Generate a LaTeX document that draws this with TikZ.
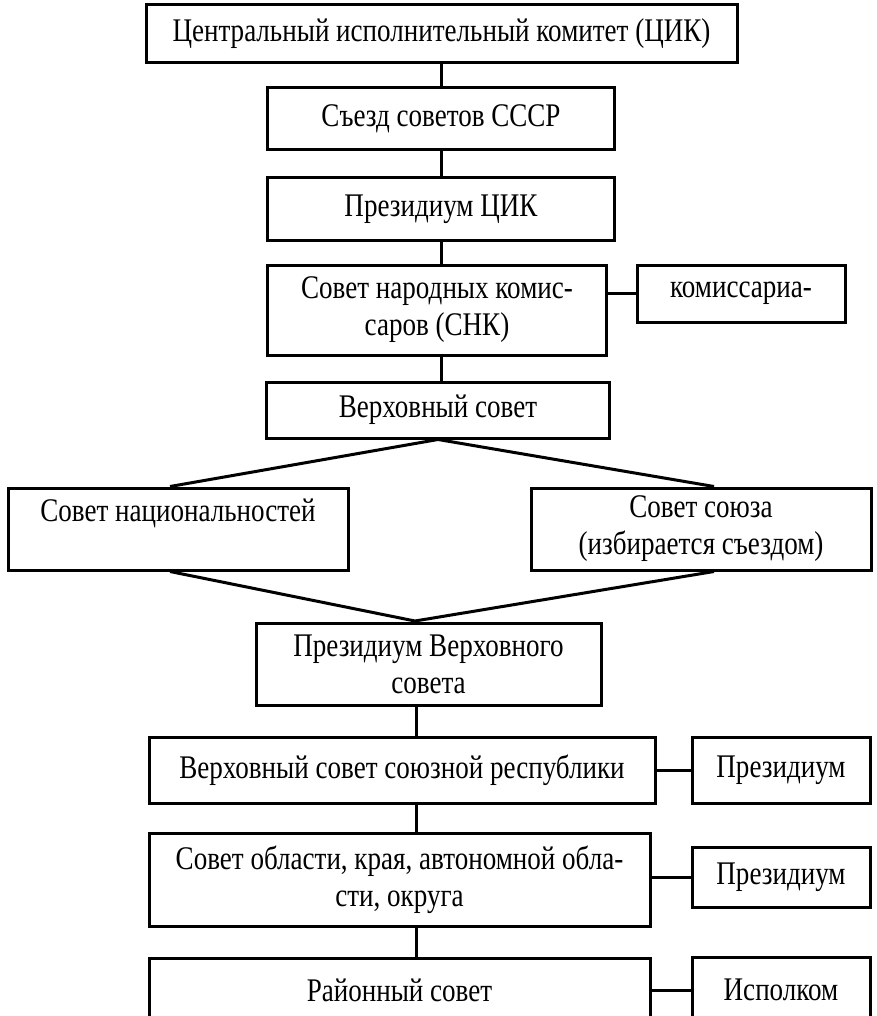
\documentclass[tikz,border=0pt]{standalone}
\usepackage{fontspec}
\setmainfont{Liberation Serif}[FakeStretch=0.82]
\begin{document}
\begin{tikzpicture}[x=1pt,y=-1pt,
  box/.style={draw, line width=3pt, inner sep=0pt, align=center,
    font=\fontsize{33}{37}\selectfont},
  link/.style={line width=3pt}]
\useasboundingbox (0,0) rectangle (876,1016);
\clip (0,0) rectangle (876,1016);
\node[box, minimum width=591pt, minimum height=58pt] (b1) at (441.5,34) {Центральный исполнительный комитет (ЦИК)};
\node[box, minimum width=347pt, minimum height=62pt] (b2) at (441,119) {Съезд советов СССР};
\node[box, minimum width=347pt, minimum height=62pt] (b3) at (441,209) {Президиум ЦИК};
\node[box, minimum width=339pt, minimum height=90pt] (b4) at (437,310) {Совет народных комис-\\саров (СНК)};
\node[box, minimum width=208pt, minimum height=57pt] (b4s) at (741,293.5) {комиссариа-};
\node[box, minimum width=343pt, minimum height=56pt] (b5) at (438,410) {Верховный совет};
\node[box, minimum width=340pt, minimum height=82pt] (b6l) at (178,529) {Совет национальностей\\~};
\node[box, minimum width=340pt, minimum height=82pt] (b6r) at (701,529) {Совет союза\\(избирается съездом)};
\node[box, minimum width=345pt, minimum height=82pt] (b7) at (428.5,664) {Президиум Верховного\\совета};
\node[box, minimum width=506pt, minimum height=66pt] (b8) at (402,770) {Верховный совет союзной республики};
\node[box, minimum width=178pt, minimum height=66pt] (b8s) at (781,770) {Президиум};
\node[box, minimum width=501pt, minimum height=93pt] (b9) at (399.5,879.5) {Совет области, края, автономной обла-\\сти, округа};
\node[box, minimum width=178pt, minimum height=60pt] (b9s) at (781,877) {Президиум};
\node[box, minimum width=501pt, minimum height=64pt] (b10) at (399.5,990) {Районный совет};
\node[box, minimum width=178pt, minimum height=66pt] (b10s) at (781,990) {Исполком};
\coordinate (spine) at (416,0);
\coordinate (apex) at (415,621);
\draw[link] (b1.south) -- (b1.south |- b2.north);
\draw[link] (b2.south) -- (b2.south |- b3.north);
\draw[link] (b3.south) -- (b3.south |- b4.north);
\draw[link] (b4.south -| b3.south) -- (b3.south |- b5.north);
\draw[link] (b4.east |- b4s.west) -- (b4s.west);
\draw[link] ([xshift=-8pt]b6l.north) -- (b5.south) -- ([xshift=13pt]b6r.north);
\draw[link] ([xshift=-8pt]b6l.south) -- (apex) -- ([xshift=13pt]b6r.south);
\draw[link] (b7.south -| spine) -- (b8.north -| spine);
\draw[link] (b8.south -| spine) -- (b9.north -| spine);
\draw[link] (b9.south -| spine) -- (b10.north -| spine);
\draw[link] (b8.east) -- (b8s.west);
\draw[link] (b9.east |- b9s.west) -- (b9s.west);
\draw[link] (b10.east) -- (b10s.west);
\end{tikzpicture}
\end{document}
